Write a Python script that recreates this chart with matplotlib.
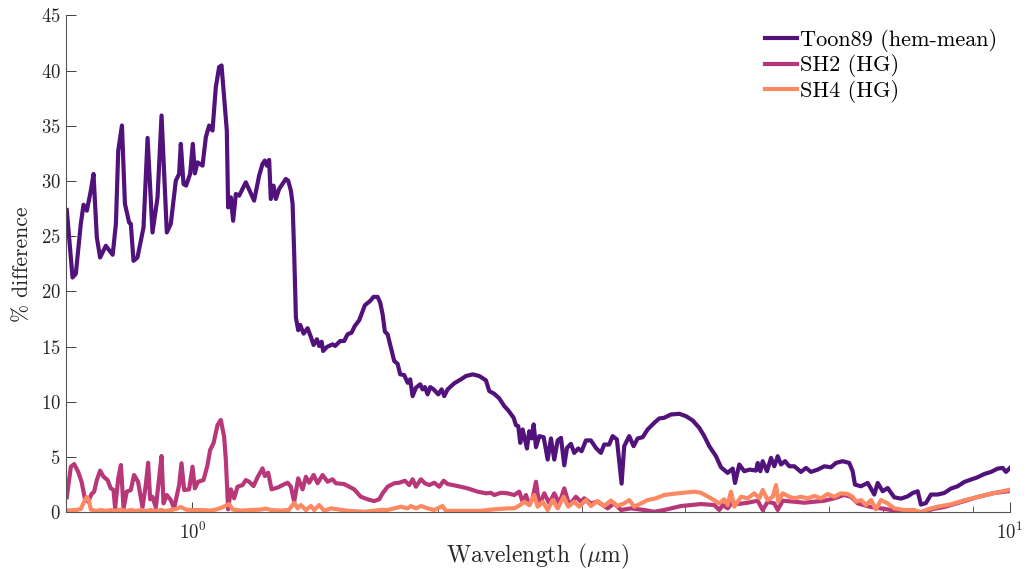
import matplotlib
matplotlib.use('Agg')
import matplotlib.pyplot as plt
from matplotlib.ticker import LogLocator, NullFormatter, MultipleLocator

plt.rcParams['font.family'] = ['cmr10', 'DejaVu Serif']
plt.rcParams['mathtext.fontset'] = 'cm'
plt.rcParams['axes.formatter.use_mathtext'] = True

# Toon89 (hem-mean) -- wavelength (um) and % difference
wl_toon = [0.7022, 0.7137, 0.7203, 0.7305, 0.7361, 0.7430, 0.7514, 0.7571, 0.7642, 0.7713,
           0.7838, 0.7991, 0.8064, 0.8117, 0.8202, 0.8271, 0.8369, 0.8409, 0.8474, 0.8568,
           0.8716, 0.8816, 0.8939, 0.9067, 0.9170, 0.9307, 0.9412, 0.9546, 0.9635, 0.9681,
           0.9755, 0.9827, 0.9938, 1.0014, 1.0071, 1.0148, 1.0291, 1.0388, 1.0485, 1.0585,
           1.0684, 1.0784, 1.0857, 1.0937, 1.1020, 1.1061, 1.1145, 1.1218, 1.1303, 1.1409,
           1.1626, 1.1901, 1.2070, 1.2186, 1.2266, 1.2335, 1.2415, 1.2474, 1.2570, 1.2652,
           1.2770, 1.3013, 1.3098, 1.3199, 1.3263, 1.3323, 1.3387, 1.3474, 1.3550, 1.3680,
           1.3835, 1.3964, 1.4071, 1.4202, 1.4295, 1.4392, 1.4454, 1.4606, 1.4842, 1.4951,
           1.5163, 1.5335, 1.5483, 1.5658, 1.5805, 1.5998, 1.6257, 1.6501, 1.6660, 1.6849,
           1.6973, 1.7088, 1.7199, 1.7331, 1.7493, 1.7656, 1.7826, 1.7957, 1.8160, 1.8335,
           1.8470, 1.8596, 1.8769, 1.8998, 1.9127, 1.9251, 1.9398, 1.9541, 1.9729, 1.9986,
           2.0178, 2.0327, 2.0522, 2.0908, 2.1307, 2.1609, 2.2021, 2.2434, 2.2861, 2.3075,
           2.3402, 2.3734, 2.4071, 2.4343, 2.4716, 2.4877, 2.5038, 2.5180, 2.5351, 2.5660,
           2.5827, 2.6002, 2.6149, 2.6319, 2.6565, 2.6896, 2.7201, 2.7454, 2.7711, 2.7978,
           2.8239, 2.8503, 2.8720, 2.9040, 2.9311, 2.9643, 2.9929, 3.0293, 3.0722, 3.1158,
           3.1600, 3.1894, 3.2347, 3.2659, 3.3057, 3.3271, 3.3497, 3.3743, 3.4222, 3.4648,
           3.5041, 3.5539, 3.6043, 3.6720, 3.7241, 3.7770, 3.8489, 3.9400, 4.0151, 4.0917,
           4.1685, 4.2277, 4.2876, 4.3694, 4.4313, 4.5157, 4.5799, 4.6097, 4.6658, 4.7322,
           4.7994, 4.8906, 4.9143, 4.9504, 4.9840, 5.0447, 5.1019, 5.1495, 5.1991, 5.2477,
           5.3071, 5.3718, 5.4479, 5.5503, 5.6305, 5.7103, 5.8192, 5.9286, 6.0393, 6.1254,
           6.2422, 6.3596, 6.4208, 6.4625, 6.5727, 6.6979, 6.7605, 6.8236, 6.8894, 6.9870,
           7.0861, 7.2194, 7.3570, 7.4969, 7.6033, 7.7110, 7.7822, 7.8923, 8.0041, 8.1567,
           8.3097, 8.4682, 8.6296, 8.7916, 8.9591, 9.1302, 9.3016, 9.4790, 9.6595, 9.7965,
           9.8880, 10.000]
pct_toon = [27.37, 21.26, 21.60, 26.13, 27.85, 27.31, 29.12, 30.64, 24.89, 23.07,
            24.13, 23.32, 26.13, 32.75, 35.02, 27.94, 26.25, 26.13, 22.77, 23.07,
            25.79, 33.90, 25.34, 28.52, 35.93, 25.34, 26.13, 30.03, 30.64, 33.36,
            29.73, 29.58, 30.64, 33.36, 30.69, 31.69, 31.39, 33.96, 35.02, 34.57,
            38.50, 40.31, 40.46, 37.59, 34.57, 27.61, 28.52, 26.40, 28.82, 28.67,
            29.88, 28.22, 30.48, 31.55, 31.85, 31.39, 31.91, 28.37, 29.58, 28.37,
            29.28, 30.18, 30.03, 29.12, 27.92, 23.38, 17.63, 16.49, 16.97, 16.18,
            16.67, 15.88, 15.15, 15.67, 15.06, 15.45, 14.61, 14.97, 15.21, 15.06,
            15.51, 15.51, 16.12, 16.27, 16.88, 17.39, 18.75, 19.14, 19.51, 19.51,
            18.99, 17.94, 16.36, 16.12, 14.91, 13.70, 13.45, 12.49, 12.43, 11.73,
            12.04, 10.52, 11.28, 11.59, 11.13, 11.34, 10.68, 11.34, 11.13, 10.68,
            11.13, 10.52, 11.13, 11.68, 12.04, 12.34, 12.49, 12.34, 11.95, 10.98,
            10.73, 10.32, 9.62, 9.23, 8.56, 7.89, 7.80, 6.29, 7.50, 5.78,
            7.35, 6.69, 7.96, 5.90, 6.90, 6.80, 4.78, 6.69, 4.78, 6.51,
            6.74, 4.26, 5.83, 6.20, 5.38, 5.78, 5.53, 6.51, 6.51, 5.83,
            5.38, 6.14, 6.14, 6.90, 6.60, 4.63, 2.60, 5.99, 6.90, 5.99,
            6.69, 6.80, 7.50, 8.10, 8.50, 8.56, 8.86, 8.92, 8.71, 8.32,
            7.65, 6.90, 5.99, 5.08, 4.08, 3.57, 3.96, 2.66, 4.33, 3.72,
            3.87, 3.78, 4.47, 3.72, 4.63, 3.72, 4.93, 4.17, 5.08, 4.33,
            4.63, 4.17, 4.17, 3.66, 4.02, 3.66, 3.87, 4.17, 4.08, 4.47,
            4.63, 4.47, 3.72, 2.51, 2.36, 2.66, 2.15, 1.61, 2.66, 1.91,
            2.20, 1.36, 1.24, 1.45, 1.75, 1.91, 0.70, 0.84, 1.61, 1.61,
            1.75, 2.15, 2.36, 2.75, 2.97, 3.18, 3.47, 3.66, 3.96, 4.02,
            3.66, 4.02]

# SH2 (HG)
wl_sh2 = [0.7022, 0.7103, 0.7169, 0.7250, 0.7320, 0.7388, 0.7457, 0.7529, 0.7584, 0.7642,
          0.7713, 0.7788, 0.7876, 0.7949, 0.8010, 0.8046, 0.8117, 0.8178, 0.8240, 0.8314,
          0.8409, 0.8487, 0.8583, 0.8691, 0.8772, 0.8830, 0.8880, 0.8939, 0.9023, 0.9093,
          0.9170, 0.9221, 0.9307, 0.9412, 0.9500, 0.9635, 0.9700, 0.9772, 0.9910, 1.0006,
          1.0071, 1.0165, 1.0320, 1.0437, 1.0514, 1.0615, 1.0735, 1.0835, 1.0937, 1.0990,
          1.1061, 1.1145, 1.1249, 1.1358, 1.1519, 1.1626, 1.1734, 1.1880, 1.2016, 1.2186,
          1.2266, 1.2381, 1.2500, 1.2617, 1.2734, 1.2893, 1.3076, 1.3199, 1.3323, 1.3474,
          1.3641, 1.3769, 1.3897, 1.4071, 1.4230, 1.4430, 1.4635, 1.4842, 1.4981, 1.5335,
          1.5774, 1.6071, 1.6380, 1.6689, 1.6925, 1.7088, 1.7331, 1.7656, 1.7907, 1.8197,
          1.8418, 1.8596, 1.8769, 1.9035, 1.9251, 1.9486, 1.9763, 2.0043, 2.0293, 2.0522,
          2.1110, 2.1712, 2.2333, 2.2861, 2.3186, 2.3402, 2.3849, 2.4302, 2.4757, 2.5109,
          2.5351, 2.5588, 2.5827, 2.6075, 2.6319, 2.6565, 2.6942, 2.7323, 2.7711, 2.8105,
          2.8503, 2.8902, 2.9451, 2.9870, 3.0149, 3.0722, 3.1308, 3.2201, 3.2806, 3.3431,
          3.4386, 3.5700, 3.6720, 3.7770, 3.9594, 4.1879, 4.3485, 4.4102, 4.4527, 4.5157,
          4.5799, 4.6448, 4.7777, 4.9143, 4.9840, 5.0546, 5.1495, 5.1991, 5.2728, 5.4479,
          5.6036, 5.7637, 5.9286, 6.0962, 6.2703, 6.3903, 6.5118, 6.7605, 7.0861, 7.3570,
          7.6377, 7.7822, 8.0041, 8.3097, 8.7116, 9.1302, 9.5676, 10.000]
pct_sh2 = [1.36, 4.13, 4.37, 3.68, 2.77, 1.27, 0.96, 1.66, 1.87, 2.92,
           3.77, 3.22, 2.92, 2.17, 2.02, 0.36, 3.08, 4.28, 0.36, 1.87,
           2.02, 3.38, 2.77, 0.45, 2.47, 4.49, 1.18, 1.41, 0.45, 2.63,
           5.10, 0.81, 1.57, 1.11, 0.36, 2.47, 4.44, 2.02, 2.08, 4.13,
           2.17, 2.77, 2.92, 4.28, 5.64, 6.25, 7.90, 8.36, 6.85, 4.74,
           0.27, 2.08, 1.27, 2.32, 2.47, 2.92, 2.77, 2.38, 3.17, 3.98,
           3.29, 3.59, 2.08, 2.17, 2.26, 2.47, 2.68, 2.32, 0.96, 3.08,
           2.08, 3.22, 2.68, 3.38, 2.63, 3.38, 2.77, 2.99, 2.63, 2.56,
           2.08, 1.41, 1.18, 1.02, 1.18, 1.72, 2.32, 2.63, 2.68, 2.86,
           2.47, 2.99, 2.32, 2.99, 2.63, 2.47, 2.68, 2.32, 2.86, 2.56,
           2.38, 2.17, 1.87, 1.72, 1.77, 1.57, 1.77, 1.72, 1.57, 1.87,
           0.96, 1.57, 0.66, 1.27, 2.77, 0.66, 1.72, 0.81, 1.72, 0.81,
           2.17, 0.66, 1.41, 0.96, 1.27, 0.81, 0.96, 0.36, 0.81, 0.21,
           0.36, 0.21, 0.05, 0.21, 0.57, 0.75, 0.66, 0.21, 0.66, 0.36,
           0.96, 0.75, 0.87, 1.05, 0.21, 0.96, 0.81, 0.21, 1.05, 0.96,
           0.87, 0.96, 1.05, 1.27, 1.57, 1.41, 0.81, 0.48, 0.27, 0.03,
           0.00, 0.00, 0.27, 0.48, 0.93, 1.39, 1.75, 1.93]

# SH4 (HG)
wl_sh4 = [0.7022, 0.7203, 0.7305, 0.7388, 0.7430, 0.7472, 0.7514, 0.7620, 0.7731, 0.7838,
          0.7949, 0.8064, 0.8178, 0.8292, 0.8409, 0.8527, 0.8650, 0.8772, 0.8897, 0.9023,
          0.9152, 0.9281, 0.9412, 0.9546, 0.9681, 0.9819, 0.9958, 1.0242, 1.0533, 1.0684,
          1.0835, 1.0959, 1.1091, 1.1208, 1.1463, 1.1793, 1.2128, 1.2300, 1.2474, 1.2832,
          1.3121, 1.3323, 1.3451, 1.3575, 1.3769, 1.3964, 1.4094, 1.4295, 1.4496, 1.4771,
          1.5483, 1.6227, 1.7010, 1.7331, 1.7656, 1.7989, 1.8335, 1.8507, 1.8769, 1.9035,
          1.9398, 1.9763, 2.0231, 2.0420, 2.0908, 2.1712, 2.2539, 2.3402, 2.4302, 2.4757,
          2.5180, 2.5465, 2.5827, 2.6193, 2.6445, 2.6821, 2.7201, 2.7586, 2.7978, 2.8455,
          2.8820, 2.9311, 2.9727, 3.0293, 3.0722, 3.1308, 3.1894, 3.2503, 3.3057, 3.3743,
          3.4222, 3.4707, 3.5383, 3.6043, 3.6896, 3.7770, 3.9223, 4.1101, 4.1879, 4.3082,
          4.4102, 4.4728, 4.5157, 4.5580, 4.6006, 4.6882, 4.7777, 4.8674, 4.9364, 4.9840,
          5.0546, 5.1262, 5.1743, 5.2078, 5.2728, 5.3718, 5.4479, 5.5503, 5.6575, 5.7637,
          5.8725, 5.9841, 6.0962, 6.2137, 6.3310, 6.4208, 6.4807, 6.5727, 6.6658, 6.7605,
          6.8565, 6.9535, 7.0861, 7.2194, 7.4256, 7.6377, 7.7822, 7.9302, 8.1567, 8.4682,
          8.7916, 9.1302, 9.5676, 10.000]
pct_sh4 = [0.16, 0.21, 0.30, 1.11, 1.39, 1.11, 0.25, 0.12, 0.21, 0.12,
           0.21, 0.14, 0.25, 0.12, 0.21, 0.12, 0.21, 0.12, 0.21, 0.12,
           0.21, 0.12, 0.21, 0.30, 0.48, 0.25, 0.21, 0.21, 0.16, 0.25,
           0.39, 0.57, 0.75, 0.25, 0.16, 0.21, 0.25, 0.34, 0.21, 0.16,
           0.21, 0.87, 0.36, 0.66, 0.21, 0.57, 0.21, 0.66, 0.14, 0.36,
           0.14, 0.05, 0.21, 0.21, 0.36, 0.51, 0.36, 0.57, 0.36, 0.57,
           0.36, 0.21, 0.57, 0.14, 0.14, 0.14, 0.14, 0.27, 0.36, 0.36,
           0.66, 0.96, 0.66, 1.57, 0.51, 0.96, 0.21, 1.11, 0.36, 1.41,
           0.51, 0.96, 0.51, 1.11, 0.57, 1.02, 0.57, 1.07, 0.57, 0.81,
           1.11, 0.51, 0.81, 1.11, 1.27, 1.57, 1.72, 1.87, 1.77, 1.27,
           0.81, 1.18, 0.66, 1.87, 0.51, 1.41, 1.27, 1.72, 1.27, 2.02,
           1.11, 1.41, 2.47, 0.96, 1.72, 1.41, 1.27, 1.41, 1.27, 1.48,
           1.27, 1.66, 1.41, 1.72, 1.66, 1.41, 0.96, 1.11, 0.66, 1.11,
           0.27, 1.11, 0.81, 0.36, 0.21, 0.21, 0.00, 0.27, 0.51, 0.72,
           1.09, 1.39, 1.75, 2.05]

labels = ['Toon89 (hem-mean)', 'SH2 (HG)', 'SH4 (HG)']
colors = ['#51127c', '#b73779', '#fc8961']

fig = plt.figure(figsize=(10.26, 5.69), dpi=100)
ax = fig.add_axes([0.064, 0.0996, 0.9204, 0.8735])

ax.plot(wl_toon, pct_toon, color=colors[0], lw=3.0, label=labels[0])
ax.plot(wl_sh2, pct_sh2, color=colors[1], lw=3.0, label=labels[1])
ax.plot(wl_sh4, pct_sh4, color=colors[2], lw=3.0, label=labels[2])

ax.set_xscale('log')
ax.set_xlim(0.7, 10)
ax.set_ylim(0, 45)
ax.yaxis.set_major_locator(MultipleLocator(5))
ax.xaxis.set_minor_locator(LogLocator(base=10, subs=range(2, 10)))
ax.xaxis.set_minor_formatter(NullFormatter())

for s in ['top', 'right']:
    ax.spines[s].set_visible(False)
for s in ['left', 'bottom']:
    ax.spines[s].set_color('#555555')
    ax.spines[s].set_linewidth(0.8)

ax.tick_params(which='both', direction='in', colors='#262626', labelsize=13.5)
ax.tick_params(which='major', length=7, width=0.7, color='#404040')
ax.tick_params(which='minor', length=4, width=0.6, color='#404040')
ax.tick_params(axis='x', which='major', pad=7)

ax.set_xlabel(r'Wavelength ($\mu$m)', fontsize=17, color='#262626', labelpad=-1)
ax.set_ylabel('% difference', fontsize=15.5, color='#262626', labelpad=6)

leg = ax.legend(loc='upper right', bbox_to_anchor=(1.0, 1.0), frameon=False,
                fontsize=16, handlelength=1.45, handletextpad=0.1,
                labelspacing=0.12, borderaxespad=0.2)

fig.savefig('out.png', dpi=100)
